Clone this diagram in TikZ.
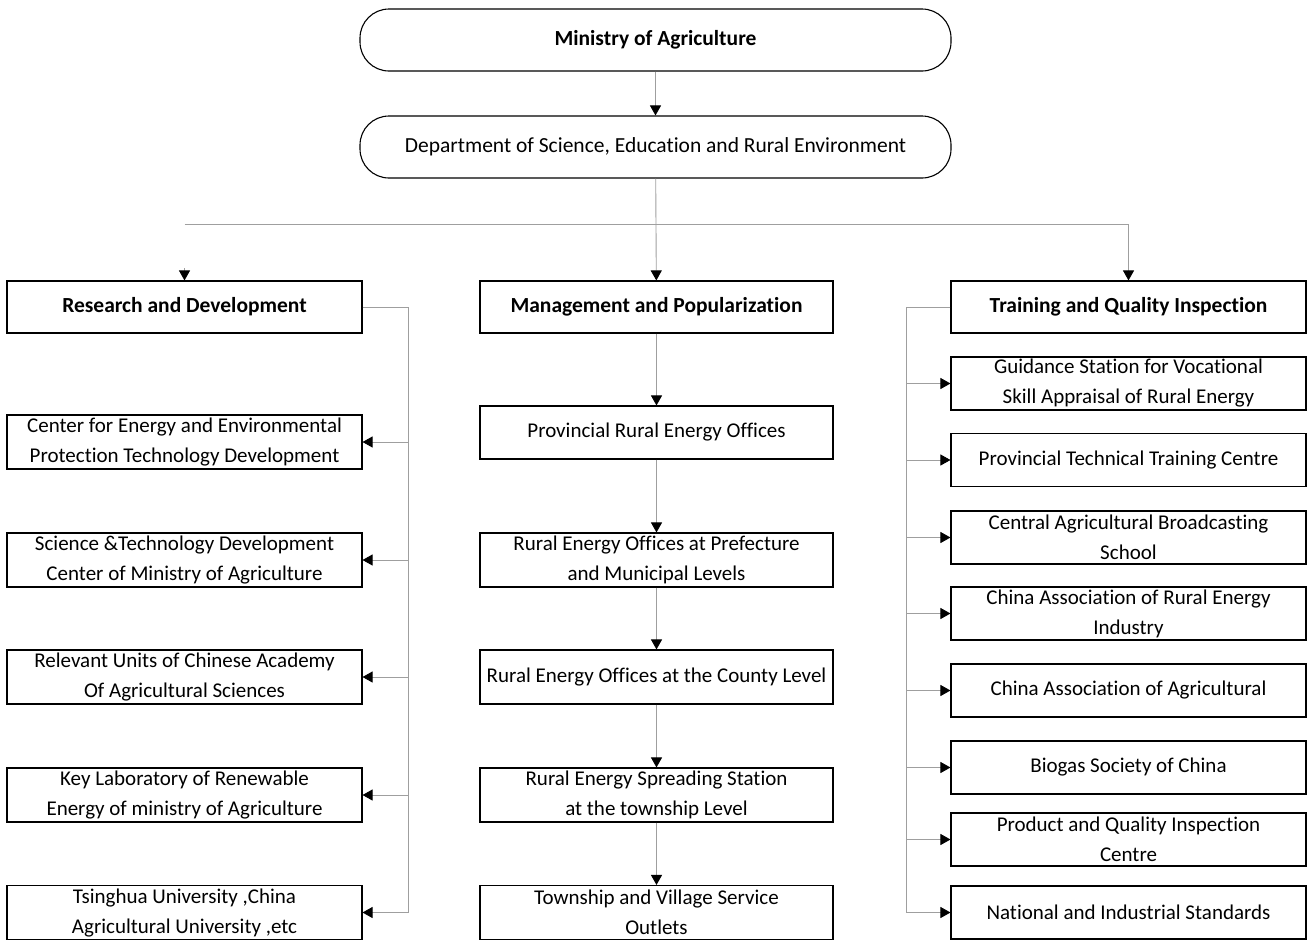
\documentclass[tikz,border=0pt]{standalone}
\usepackage{fontspec}
\setmainfont[Ligatures={NoCommon}]{Carlito}
\usetikzlibrary{arrows.meta}
\begin{document}
\begin{tikzpicture}[x=1pt,y=-1pt,
  box/.style={draw=black,line width=1.1pt,rectangle,inner sep=0pt,align=center,
    minimum width=355pt,minimum height=54pt,font=\fontsize{21}{30}\selectfont},
  head/.style={box,font=\bfseries\fontsize{21.5}{24}\selectfont,minimum height=52pt},
  pill/.style={draw=black,line width=1.1pt,rounded corners=29pt,inner sep=0pt,
    minimum width=591pt,minimum height=62pt,align=center},
  conn/.style={draw=gray!75,line width=0.9pt},
  arr/.style={conn,-{Triangle[length=10pt,width=11pt,black]}}]
\useasboundingbox (0,0) rectangle (1311,940);
% top
\node[pill,font=\bfseries\fontsize{21.5}{24}\selectfont] (moa) at (655.5,40) {Ministry of Agriculture};
\node[pill,font=\fontsize{21.5}{24}\selectfont] (dept) at (655.5,147) {Department of Science, Education and Rural Environment};
% headers
\node[head] (rd) at (184.5,307) {Research and Development};
\node[head,minimum width=353pt] (mp) at (656.5,307) {Management and Popularization};
\node[head] (tq) at (1128.5,307) {Training and Quality Inspection};
% left column
\node[box] (l1) at (184.5,442) {Center for Energy and Environmental\\Protection Technology Development};
\node[box] (l2) at (184.5,560) {Science \&Technology Development\\Center of Ministry of Agriculture};
\node[box] (l3) at (184.5,677) {Relevant Units of Chinese Academy\\Of Agricultural Sciences};
\node[box] (l4) at (184.5,795) {Key Laboratory of Renewable\\Energy of ministry of Agriculture};
\node[box] (l5) at (184.5,912.5) {Tsinghua University ,China\\Agricultural University ,etc};
% middle column
\node[box,minimum width=353pt,minimum height=53pt] (m1) at (656.5,432.5) {Provincial Rural Energy Offices};
\node[box,minimum width=353pt] (m2) at (656.5,560) {Rural Energy Offices at Prefecture\\and Municipal Levels};
\node[box,minimum width=353pt] (m3) at (656.5,677) {Rural Energy Offices at the County Level};
\node[box,minimum width=353pt] (m4) at (656.5,795) {Rural Energy Spreading Station\\at the township Level};
\node[box,minimum width=353pt] (m5) at (656.5,912.5) {Township and Village Service\\Outlets};
% right column
\node[box,minimum height=53pt] (r1) at (1128.5,383.5) {Guidance Station for Vocational\\Skill Appraisal of Rural Energy};
\node[box,minimum height=53pt] (r2) at (1128.5,460) {Provincial Technical Training Centre};
\node[box,minimum height=53pt] (r3) at (1128.5,537.5) {Central Agricultural Broadcasting\\School};
\node[box,minimum height=53pt] (r4) at (1128.5,613.5) {China Association of Rural Energy\\Industry};
\node[box,minimum height=53pt] (r5) at (1128.5,690.5) {China Association of Agricultural};
\node[box,minimum height=53pt] (r6) at (1128.5,767.5) {Biogas Society of China};
\node[box,minimum height=53pt] (r7) at (1128.5,839.5) {Product and Quality Inspection\\Centre};
\node[box,minimum height=53pt] (r8) at (1128.5,912.5) {National and Industrial Standards};
% coordinates
\coordinate (bl) at (184.5,224);
\coordinate (bla) at (184.5,268);
\coordinate (br) at (1128.5,224);
\coordinate (lt) at (408,307);
\coordinate (lb) at (408,912.5);
\coordinate (rt) at (906,307);
\coordinate (rb) at (906,912.5);
% top connectors
\draw[arr] (moa) -- (dept);
\draw[arr] (dept) -- (mp);
\draw[conn] (bl) -- (br);
\draw[arr] (bla) -- (rd);
\draw[arr] (br) -- (tq);
% middle chain
\draw[arr] (mp) -- (m1);
\draw[arr] (m1) -- (m2);
\draw[arr] (m2) -- (m3);
\draw[arr] (m3) -- (m4);
\draw[arr] (m4) -- (m5);
% left bus
\draw[conn] (rd.east) -- (lt) -- (lb);
\foreach \n in {l1,l2,l3,l4,l5}{\draw[arr] (lt |- \n.east) -- (\n.east);}
% right bus
\draw[conn] (tq.west) -- (rt) -- (rb);
\foreach \n in {r1,r2,r3,r4,r5,r6,r7,r8}{\draw[arr] (rt |- \n.west) -- (\n.west);}
\end{tikzpicture}
\end{document}
